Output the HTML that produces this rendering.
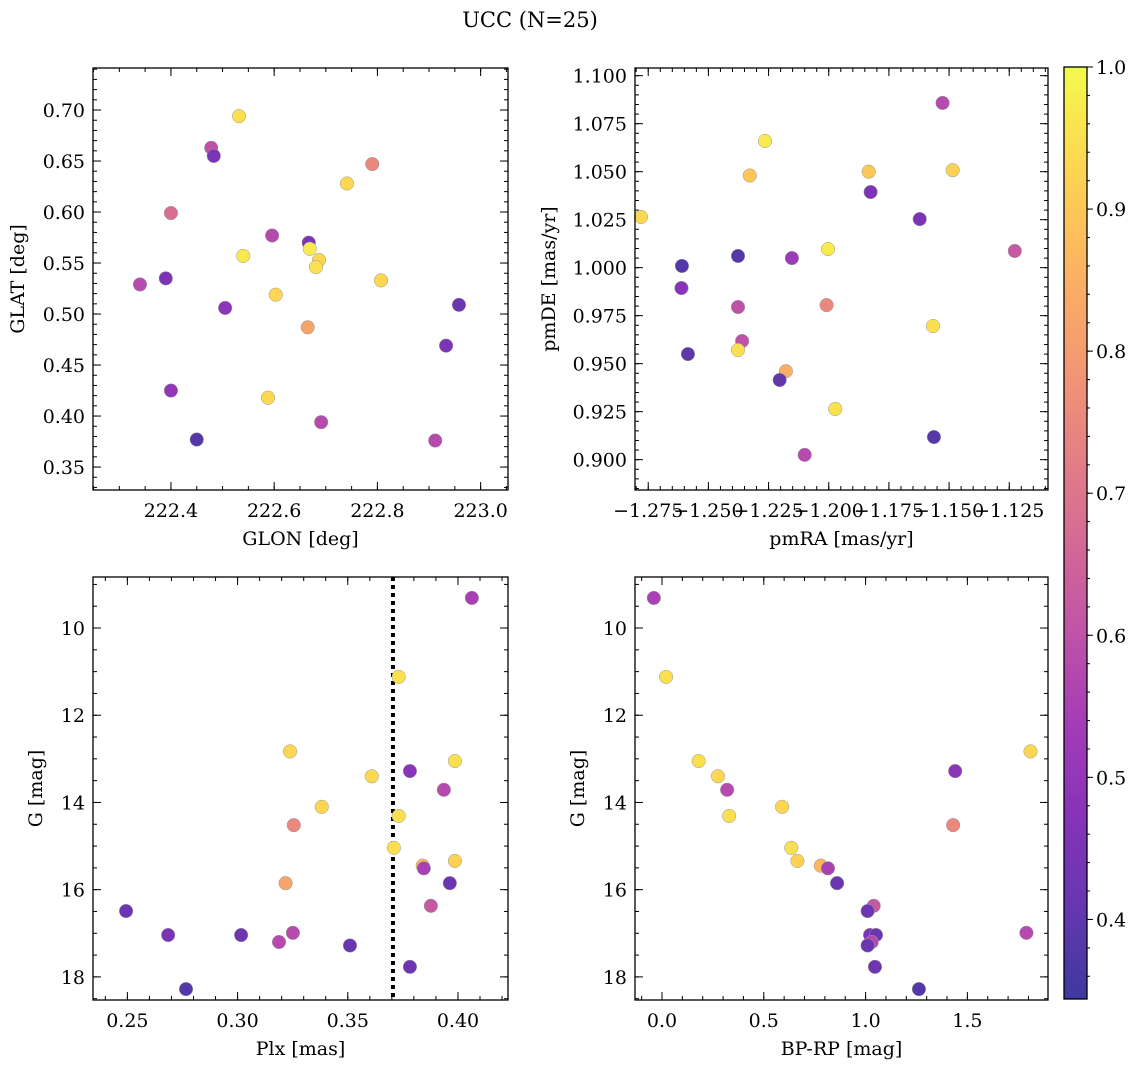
<!DOCTYPE html>
<html><head><meta charset="utf-8"><title>UCC (N=25)</title>
<style>
html,body{margin:0;padding:0;background:#fff;}
svg{display:block;font-family:"DejaVu Serif","Liberation Serif",serif;}
</style></head>
<body>
<svg id="fig" width="1136" height="1067" viewBox="0 0 1136 1067" xmlns="http://www.w3.org/2000/svg">
<defs>
<linearGradient id="plasma" x1="0" y1="1" x2="0" y2="0"></linearGradient>
</defs>
<text x="530" y="27" font-size="21" text-anchor="middle">UCC (N=25)</text>
</svg>
<script>
// Panel 1: positions
const glon = [222.532,222.478,222.483,222.790,222.741,222.400,222.596,222.667,222.669,222.540,222.687,222.681,222.390,222.340,222.807,222.603,222.958,222.505,222.665,222.933,222.400,222.588,222.691,222.450,222.912];
const glat = [0.694,0.663,0.655,0.647,0.628,0.599,0.577,0.570,0.564,0.557,0.553,0.546,0.535,0.529,0.533,0.519,0.509,0.506,0.487,0.469,0.425,0.418,0.394,0.377,0.376];
const probPos = [0.95,0.60,0.45,0.75,0.93,0.68,0.58,0.45,0.97,0.97,0.93,0.95,0.45,0.58,0.93,0.93,0.42,0.48,0.82,0.45,0.50,0.93,0.58,0.38,0.58];
// Panel 2: proper motions
const pmra = [-1.1527,-1.2265,-1.2328,-1.1834,-1.1485,-1.2780,-1.1826,-1.1622,-1.1227,-1.2003,-1.2610,-1.2377,-1.2153,-1.2612,-1.2377,-1.2009,-1.1567,-1.2360,-1.2585,-1.2377,-1.2178,-1.2204,-1.1973,-1.1563,-1.2100];
const pmde = [1.0858,1.0660,1.0480,1.0500,1.0508,1.0264,1.0394,1.0253,1.0087,1.0097,1.0009,1.0061,1.0050,0.9894,0.9795,0.9805,0.9696,0.9618,0.9550,0.9571,0.9461,0.9415,0.9264,0.9118,0.9025];
const probPm = [0.58,0.97,0.90,0.90,0.92,0.93,0.45,0.45,0.62,0.97,0.38,0.38,0.52,0.48,0.60,0.75,0.95,0.60,0.40,0.95,0.85,0.40,0.95,0.38,0.58];
// Panels 3/4: photometry
const plx = [0.4063,0.3731,0.3238,0.3609,0.3782,0.3986,0.3936,0.3382,0.3731,0.3255,0.3709,0.3840,0.3845,0.3986,0.3218,0.3963,0.3877,0.2494,0.2685,0.3016,0.3251,0.3188,0.3510,0.3782,0.2766];
const gmag = [9.31,11.12,12.83,13.40,13.28,13.05,13.71,14.10,14.31,14.52,15.04,15.45,15.51,15.34,15.85,15.85,16.37,16.49,17.04,17.04,16.99,17.20,17.28,17.77,18.28];
const bprp = [-0.04,0.02,1.81,0.275,1.44,0.18,0.32,0.59,0.33,1.43,0.635,0.78,0.815,0.665,0.86,0.86,1.04,1.01,1.022,1.051,1.79,1.03,1.01,1.046,1.262];
const probPhot = [0.55,0.95,0.93,0.93,0.48,0.95,0.58,0.93,0.95,0.75,0.95,0.87,0.55,0.92,0.82,0.42,0.62,0.42,0.45,0.42,0.58,0.58,0.42,0.42,0.38];
const plxLine = [0.3705];
// Tick labels
const p1XTicks = ['222.4','222.6','222.8','223.0'];
const p1YTicks = ['0.35','0.40','0.45','0.50','0.55','0.60','0.65','0.70'];
const p2XTicks = ['\u22121.275','\u22121.250','\u22121.225','\u22121.200','\u22121.175','\u22121.150','\u22121.125'];
const p2YTicks = ['0.900','0.925','0.950','0.975','1.000','1.025','1.050','1.075','1.100'];
const p3XTicks = ['0.25','0.30','0.35','0.40'];
const gTicks = ['10','12','14','16','18'];
const p4XTicks = ['0.0','0.5','1.0','1.5'];
const cbTicks = ['0.4','0.5','0.6','0.7','0.8','0.9','1.0'];
const cbMin = 0.344, cbMax = 1.0;

const NS='http://www.w3.org/2000/svg';
const svg=document.getElementById('fig');
const FS=19;
function mk(tag,attrs,parent){const e=document.createElementNS(NS,tag);for(const k in attrs)e.setAttribute(k,attrs[k]);(parent||svg).appendChild(e);return e;}
function num(s){return parseFloat(s.replace('\u2212','-'));}

const stops=[[0,[13,8,135]],[0.1,[65,4,157]],[0.2,[106,0,168]],[0.3,[143,13,164]],[0.4,[177,42,144]],[0.5,[204,71,120]],[0.6,[225,100,98]],[0.7,[242,132,75]],[0.8,[252,166,54]],[0.9,[252,206,37]],[1,[240,249,33]]];
function plasmaAt(t){
  t=Math.max(0,Math.min(1,t));
  for(let i=1;i<stops.length;i++){if(t<=stops[i][0]){const a=stops[i-1],b=stops[i];const f=(t-a[0])/(b[0]-a[0]);
    const c=a[1].map((v,j)=>Math.round((v+(b[1][j]-v)*f)*0.8+255*0.2));return 'rgb('+c.join(',')+')';}}
  return 'rgb(243,250,77)';
}
function cmap(p){return plasmaAt((p-cbMin)/(cbMax-cbMin));}
const grad=document.getElementById('plasma');
for(let i=0;i<=20;i++){mk('stop',{offset:i/20,'stop-color':plasmaAt(i/20)},grad);}

function panel(c){
  const g=mk('g',{});
  
  
  const sx=v=>c.px0+(v-c.xmin)/(c.xmax-c.xmin)*(c.px1-c.px0);
  const sy=c.yinv? v=>c.py0+(v-c.ymin)/(c.ymax-c.ymin)*(c.py1-c.py0) : v=>c.py1-(v-c.ymin)/(c.ymax-c.ymin)*(c.py1-c.py0);
  const tg=mk('g',{stroke:'#000','stroke-width':1},g);
  
  
  for(let v=Math.ceil(c.xmin/c.xminor)*c.xminor; v<=c.xmax; v+=c.xminor){const x=sx(v);
    mk('line',{x1:x,x2:x,y1:c.py1,y2:c.py1-4},tg);mk('line',{x1:x,x2:x,y1:c.py0,y2:c.py0+4},tg);}
  for(let v=Math.ceil(c.ymin/c.yminor)*c.yminor; v<=c.ymax; v+=c.yminor){const y=sy(v);
    mk('line',{x1:c.px0,x2:c.px0+4,y1:y,y2:y},tg);mk('line',{x1:c.px1,x2:c.px1-4,y1:y,y2:y},tg);}
  c.xt.forEach(s=>{const x=sx(num(s));
    mk('line',{x1:x,x2:x,y1:c.py1,y2:c.py1-8},tg);mk('line',{x1:x,x2:x,y1:c.py0,y2:c.py0+8},tg);
    const t=mk('text',{x:x,y:c.py1+27,'font-size':FS,'text-anchor':'middle'},g);t.textContent=s;
    
    });
  c.yt.forEach(s=>{const y=sy(num(s));
    mk('line',{x1:c.px0,x2:c.px0+8,y1:y,y2:y},tg);mk('line',{x1:c.px1,x2:c.px1-8,y1:y,y2:y},tg);
    const t=mk('text',{x:c.px0-8,y:y+7,'font-size':FS,'text-anchor':'end'},g);t.textContent=s;
    
    });
  if(c.vline){c.vline.forEach(v=>{const l=mk('line',{x1:sx(v),x2:sx(v),y1:c.py0,y2:c.py1,stroke:'#000','stroke-width':4,'stroke-dasharray':'4,4'},g);
    
    });}
  const pg=mk('g',{},g);
  
  
  c.xs.forEach((xv,i)=>{const p=mk('circle',{cx:sx(xv),cy:sy(c.ys[i]),r:6.8,fill:cmap(c.cs[i]),stroke:'#999','stroke-width':0.5},pg);
    
    });
  const f=mk('rect',{x:c.px0,y:c.py0,width:c.px1-c.px0,height:c.py1-c.py0,fill:'none',stroke:'#000','stroke-width':1.3},g);
  
  
  const xl=mk('text',{x:(c.px0+c.px1)/2,y:c.py1+55,'font-size':FS,'text-anchor':'middle'},g);xl.textContent=c.xlabel;
  
  
  const yx=c.ylx, yy=(c.py0+c.py1)/2;
  const yl=mk('text',{x:yx,y:yy,'font-size':FS,'text-anchor':'middle',transform:'rotate(-90 '+yx+' '+yy+')'},g);yl.textContent=c.ylabel;
  
  
}

panel({name:'position-panel',px0:93,px1:508,py0:68,py1:490,xmin:222.249,xmax:223.053,ymin:0.3275,ymax:0.7412,xminor:0.05,yminor:0.01,xt:p1XTicks,yt:p1YTicks,xs:glon,ys:glat,cs:probPos,xlabel:'GLON [deg]',ylabel:'GLAT [deg]',ylx:24});
panel({name:'proper-motion-panel',px0:635,px1:1048,py0:68,py1:490,xmin:-1.2805,xmax:-1.1089,ymin:0.8842,ymax:1.104,xminor:0.005,yminor:0.005,xt:p2XTicks,yt:p2YTicks,xs:pmra,ys:pmde,cs:probPm,xlabel:'pmRA [mas/yr]',ylabel:'pmDE [mas/yr]',ylx:555});
panel({name:'parallax-panel',px0:93,px1:508,py0:577,py1:1000,xmin:0.2344,xmax:0.4227,ymin:8.83,ymax:18.53,yinv:true,xminor:0.01,yminor:0.5,xt:p3XTicks,yt:gTicks,xs:plx,ys:gmag,cs:probPhot,vline:plxLine,xlabel:'Plx [mas]',ylabel:'G [mag]',ylx:42});
panel({name:'cmd-panel',px0:635,px1:1048,py0:577,py1:1000,xmin:-0.1326,xmax:1.896,ymin:8.83,ymax:18.53,yinv:true,xminor:0.1,yminor:0.5,xt:p4XTicks,yt:gTicks,xs:bprp,ys:gmag,cs:probPhot,xlabel:'BP-RP [mag]',ylabel:'G [mag]',ylx:584});

const cb=mk('g',{});


const cx0=1064,cx1=1087,cy0=67,cy1=999;
const cby=v=>cy1-(v-cbMin)/(cbMax-cbMin)*(cy1-cy0);
mk('rect',{x:cx0,y:cy0,width:cx1-cx0,height:cy1-cy0,fill:'url(#plasma)',stroke:'#000','stroke-width':1.3},cb);
for(let v=0.36; v<=cbMax+1e-9; v+=0.02){mk('line',{x1:cx1,x2:cx1+3,y1:cby(v),y2:cby(v),stroke:'#000'},cb);}
cbTicks.forEach(s=>{const y=cby(num(s));mk('line',{x1:cx1,x2:cx1+6,y1:y,y2:y,stroke:'#000'},cb);
  const t=mk('text',{x:cx1+9,y:y+7,'font-size':FS},cb);t.textContent=s;
  
  });
</script>
</body></html>
